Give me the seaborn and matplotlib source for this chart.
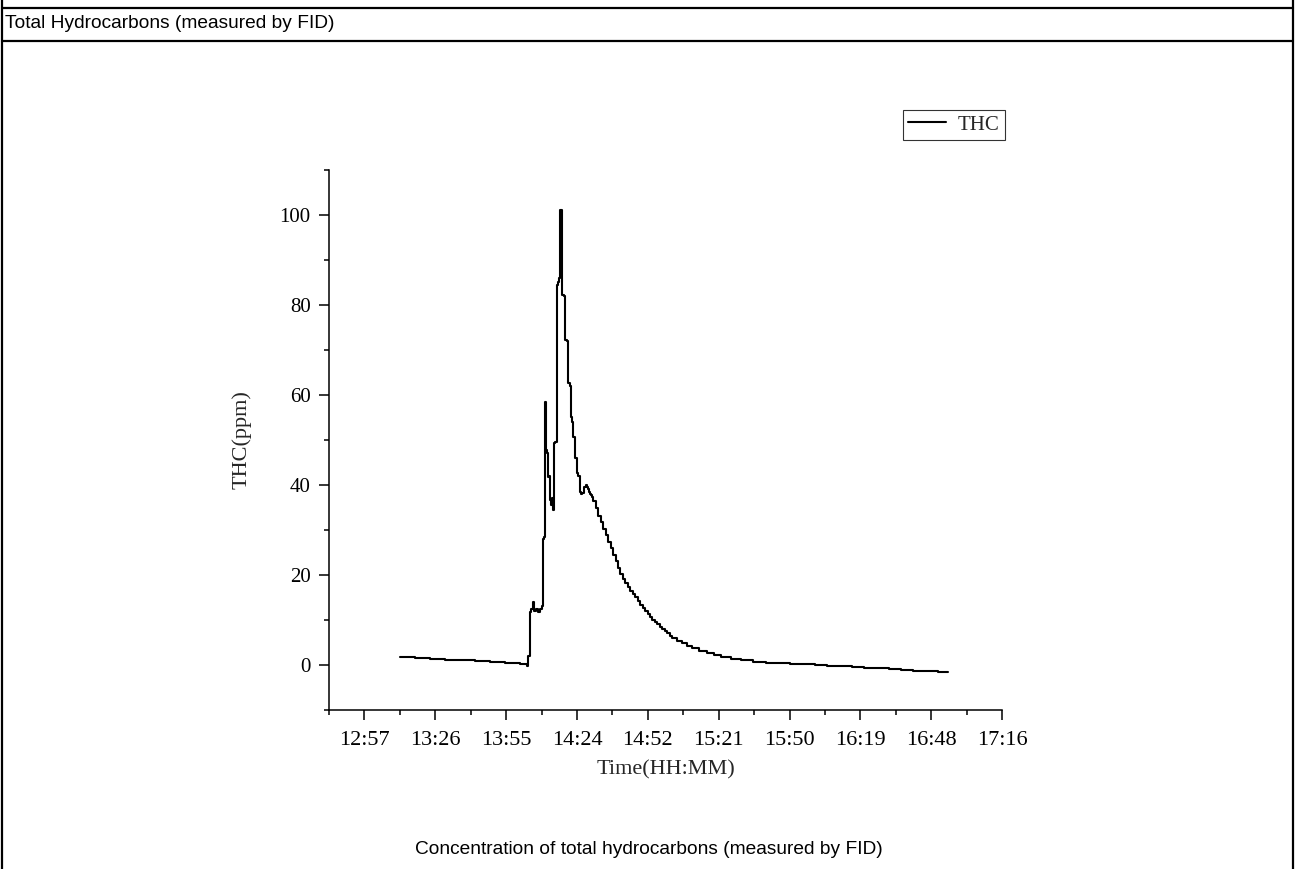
import numpy as np
import pandas as pd
import matplotlib
matplotlib.use("Agg")
import matplotlib.pyplot as plt
from matplotlib.lines import Line2D
from matplotlib.ticker import FixedLocator, MultipleLocator
import seaborn as sns

# ---- data (time in minutes since midnight, THC in ppm) ----
time_min = [
    791.6, 797.7, 803.8, 809.9, 815.9, 822.0, 828.1, 834.2, 840.3, 843.1,
    843.5, 844.1, 844.7, 845.3, 845.9, 846.7, 847.5, 848.3, 849.0, 849.4,
    850.0, 850.4, 850.8, 851.2, 851.7, 852.0, 852.4, 852.8, 853.2, 853.5,
    853.8, 854.1, 854.6, 855.1, 855.6, 856.2, 856.4, 856.7, 856.9, 857.1,
    857.4, 858.1, 858.5, 859.3, 859.8, 860.5, 860.9, 861.5, 861.9, 862.5,
    863.2, 863.9, 864.6, 865.0, 865.4, 866.2, 867.0, 867.4, 867.8, 868.2,
    868.6, 869.0, 869.4, 870.0, 871.0, 872.0, 873.0, 874.0, 875.0, 876.0,
    877.0, 878.0, 879.0, 880.0, 881.0, 882.0, 883.0, 884.0, 885.0, 886.0,
    887.0, 888.0, 889.0, 890.0, 891.0, 892.0, 893.0, 894.0, 895.0, 896.0,
    897.0, 898.0, 899.0, 900.0, 901.0, 902.0, 904.0, 906.0, 908.0, 910.0,
    913.0, 916.0, 919.0, 922.0, 926.0, 930.0, 935.0, 940.0, 945.0, 950.0,
    955.0, 960.0, 965.0, 970.0, 975.0, 980.0, 985.0, 990.0, 995.0, 1000.0,
    1005.0, 1010.0, 1014.0,
]
thc_ppm = [
    1.8, 1.6, 1.4, 1.2, 1.0, 0.8, 0.6, 0.4, 0.2, -0.2,
    2.0, 11.8, 12.5, 14.0, 12.0, 12.5, 11.8, 12.5, 13.0, 28.0,
    28.5, 58.5, 47.8, 47.0, 41.8, 42.0, 36.7, 35.5, 37.0, 34.5,
    36.0, 49.3, 49.5, 84.4, 85.0, 86.0, 101.0, 99.0, 101.0, 100.5,
    82.2, 82.0, 72.2, 72.0, 62.6, 62.0, 55.2, 54.0, 50.7, 46.0,
    42.6, 42.0, 38.5, 38.0, 38.3, 39.5, 40.0, 39.6, 39.0, 38.5,
    38.0, 37.7, 37.4, 36.5, 34.8, 33.2, 31.7, 30.2, 28.8, 27.3,
    25.9, 24.4, 23.0, 21.5, 20.3, 19.2, 18.2, 17.3, 16.5, 15.8,
    15.0, 14.2, 13.4, 12.6, 11.9, 11.3, 10.7, 10.1, 9.5, 9.0,
    8.5, 8.0, 7.5, 7.0, 6.5, 6.0, 5.4, 4.9, 4.3, 3.8,
    3.2, 2.7, 2.2, 1.8, 1.4, 1.1, 0.7, 0.45, 0.35, 0.25,
    0.15, 0.0, -0.15, -0.3, -0.45, -0.6, -0.75, -0.95, -1.1, -1.25,
    -1.4, -1.5, -1.6,
]
tick_labels = ["12:57", "13:26", "13:55", "14:24", "14:52",
               "15:21", "15:50", "16:19", "16:48", "17:16"]
tick_start_min = 777.0   # 12:57
tick_end_min = 1036.0    # 17:16
series_name = "THC"
header_text = "Total Hydrocarbons (measured by FID)"
caption_text = "Concentration of total hydrocarbons (measured by FID)"

# ---- style ----
sns.set_style("ticks")
plt.rcParams["font.family"] = ["Liberation Serif", "DejaVu Serif"]
plt.rcParams["axes.linewidth"] = 1.1

fig = plt.figure(figsize=(12.98, 8.69), dpi=100)
ax = fig.add_axes([0.2535, 0.183, 0.7720 - 0.2535, 0.8044 - 0.183])

df = pd.DataFrame({"Time": time_min, "THC": thc_ppm})
sns.lineplot(data=df, x="Time", y="THC", ax=ax, estimator=None, sort=False,
             color="black", lw=1.5, drawstyle="steps-post", label=series_name)

# x axis
major_pos = np.linspace(tick_start_min, tick_end_min, len(tick_labels))
step = major_pos[1] - major_pos[0]
ax.set_xlim(tick_start_min - step / 2, tick_end_min)
ax.xaxis.set_major_locator(FixedLocator(major_pos))
ax.set_xticklabels(tick_labels)
ax.xaxis.set_minor_locator(FixedLocator(major_pos - step / 2))

# y axis
ax.set_ylim(-10, 110)
ax.yaxis.set_major_locator(FixedLocator([0, 20, 40, 60, 80, 100]))
ax.yaxis.set_minor_locator(MultipleLocator(10))

ax.tick_params(axis="both", which="major", direction="out", length=7.2,
               width=1.1, labelsize=15, color="black", labelcolor="black")
ax.tick_params(axis="x", which="major", labelsize=16, pad=8)
ax.tick_params(axis="both", which="minor", direction="out", length=3.6,
               width=1.1, color="black")
ax.tick_params(axis="y", which="major", pad=6)

sns.despine(ax=ax, top=True, right=True)
ax.spines["left"].set_color("black")
ax.spines["bottom"].set_color("black")

ax.set_xlabel("Time(HH:MM)", fontsize=16, labelpad=7)
ax.set_ylabel("THC(ppm)", fontsize=16, labelpad=20)

leg = ax.legend(loc="upper right", bbox_to_anchor=(1005 / 1298, 1 - 110 / 869),
                bbox_transform=fig.transFigure, fontsize=15, frameon=True,
                fancybox=False, edgecolor="black", handlelength=1.8,
                handletextpad=0.6, borderpad=0.25, borderaxespad=0)
leg.get_frame().set_linewidth(0.8)

# ---- table-like frame ----
lw = 1.6
fig.add_artist(Line2D([0.0015, 0.0015], [0, 1], transform=fig.transFigure, color="black", lw=lw))
fig.add_artist(Line2D([0.9961, 0.9961], [0, 1], transform=fig.transFigure, color="black", lw=lw))
fig.add_artist(Line2D([0.0015, 0.9961], [1 - 8 / 869, 1 - 8 / 869], transform=fig.transFigure, color="black", lw=lw))
fig.add_artist(Line2D([0.0015, 0.9961], [1 - 41 / 869, 1 - 41 / 869], transform=fig.transFigure, color="black", lw=lw))

fig.text(5 / 1298, 1 - 24 / 869, header_text, ha="left", va="center",
         family=["Liberation Sans", "DejaVu Sans"], fontsize=13.8, color="black")
fig.text(0.4996, 1 - 850 / 869, caption_text, ha="center", va="center",
         family=["Liberation Sans", "DejaVu Sans"], fontsize=13.8, color="black")

fig.savefig("out.png", dpi=100)
